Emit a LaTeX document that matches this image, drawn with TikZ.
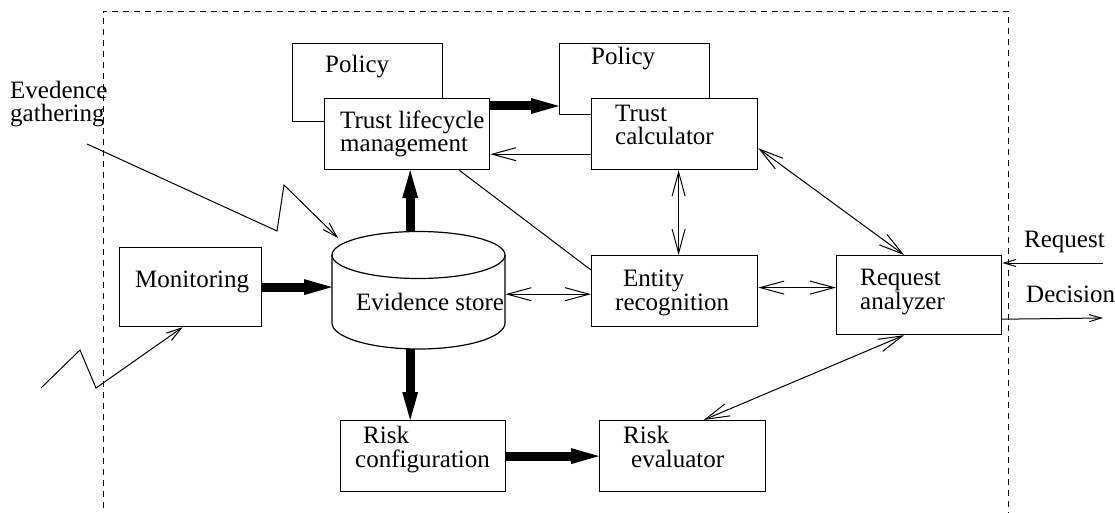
\documentclass[tikz,border=0pt]{standalone}
\usepackage{fontspec}
\setmainfont{Liberation Serif}
\usetikzlibrary{arrows.meta}
\tikzset{
  box/.style={draw, fill=white, line width=1.2pt, inner sep=0pt, anchor=north west},
  txt/.style={anchor=base west, inner sep=0pt, align=left},
  fat/.style={line width=9pt, -{Triangle[length=28pt,width=16pt,line width=0pt]}},
  link/.style={line width=1pt},
  barb/.style={link, -{Straight Barb[length=24pt,width=13pt]}},
  dbarb/.style={link, {Straight Barb[length=24pt,width=13pt]}-{Straight Barb[length=24pt,width=13pt]}},
  sbarb/.style={link, -{Straight Barb[length=15pt,width=9pt]}},
}
\begin{document}
\begin{tikzpicture}[font=\fontsize{25pt}{23.5pt}\selectfont]
\useasboundingbox (0pt,0pt) rectangle (1115pt,-513pt);
% frame
\draw[line width=0.8pt, dash pattern=on 6pt off 5pt] (103pt,-530pt) -- (103pt,-11pt) -- (1008pt,-11pt) -- (1008pt,-530pt);
% boxes
\node[box, minimum width=150pt, minimum height=78pt] (pol1) at (292pt,-43pt) {};
\node[box, minimum width=165pt, minimum height=71pt] (tlm) at (324pt,-98pt) {};
\node[box, minimum width=150pt, minimum height=71pt] (pol2) at (559pt,-43pt) {};
\node[box, minimum width=166pt, minimum height=71pt] (tc) at (591pt,-98pt) {};
\node[box, minimum width=142pt, minimum height=79pt] (monit) at (119pt,-247pt) {};
\node[box, minimum width=166pt, minimum height=71pt] (ent) at (591pt,-255pt) {};
\node[box, minimum width=165pt, minimum height=79pt] (ra) at (836pt,-255pt) {};
\node[box, minimum width=165pt, minimum height=71pt] (riskc) at (340pt,-420pt) {};
\node[box, minimum width=166pt, minimum height=71pt] (riske) at (599pt,-420pt) {};
% evidence store
\node[inner sep=0pt, minimum width=173pt, minimum height=118pt, anchor=north west] (store) at (332pt,-231pt) {};
\draw[line width=1.2pt, fill=white] (store.west |- 0,-255pt) -- (332pt,-323pt)
  arc[start angle=180, end angle=360, x radius=86.5pt, y radius=26pt] -- (505pt,-255pt);
\draw[line width=1.2pt] (418.5pt,-255pt) ellipse[x radius=86.5pt, y radius=23.5pt];
% texts (base = last line)
\node[txt] (pol1-t) at (325pt,-73pt) {Policy};
\node[txt] (pol2-t) at (591pt,-65pt) {Policy};
\node[txt] (tlm-t) at (340pt,-152pt) {Trust lifecycle\\management};
\node[txt] (tc-t) at (615pt,-145pt) {Trust\\calculator};
\node[txt] (monit-t) at (135pt,-287pt) {Monitoring};
\node[txt] (store-t) at (356pt,-310pt) {Evidence store};
\node[txt] (ent-t) at (615pt,-310pt) {\hspace*{8pt}Entity\\recognition};
\node[txt] (ra-t) at (860pt,-309pt) {Request\\analyzer};
\node[txt] (riskc-t) at (355pt,-467pt) {\hspace*{8pt}Risk\\configuration};
\node[txt] (riske-t) at (623pt,-467pt) {Risk\\\hspace*{8pt}evaluator};
\node[txt] (req-t) at (1024pt,-247pt) {Request};
\node[txt] (dec-t) at (1026pt,-302pt) {Decision};
\node[txt] (gath-t) at (10pt,-122pt) {Evedence\\gathering};
% free ends
\coordinate (reqin) at (1103pt,-263pt);
\coordinate (decout) at (1103pt,-318pt);
\coordinate (g1) at (87pt,-144pt);
\coordinate (g2) at (277pt,-231pt);
\coordinate (g3) at (284pt,-185pt);
\coordinate (g4) at (338pt,-238pt);
\coordinate (m1) at (41pt,-388pt);
\coordinate (m2) at (80pt,-350pt);
\coordinate (m3) at (96pt,-388pt);
% thick arrows
\draw[fat] (monit.east) -- (monit.east -| store.west);
\draw[fat] ([xshift=-8.5pt]store.north) -- ([xshift=-8.5pt]store.north |- tlm.south);
\draw[fat] ([xshift=-8.5pt]store.south) -- ([xshift=-8.5pt]store.south |- riskc.north);
\draw[fat] (riskc.east) -- (riskc.east -| riske.west);
\draw[fat] ([yshift=-8pt]tlm.north east) -- ([yshift=-8pt]tlm.north east -| pol2.west);
% thin links
\draw[barb] ([yshift=16pt]tc.south west) -- ([yshift=16pt]tc.south west -| tlm.east);
\draw[link] ([xshift=-31pt]tlm.south east) -- ([yshift=-15pt]ent.north west);
\draw[dbarb] ([yshift=-4pt]store.east) -- ([yshift=-4pt]store.east -| ent.west);
\draw[dbarb] ([xshift=4pt]tc.south) -- ([xshift=4pt]ent.north);
\draw[dbarb] ([yshift=3.5pt]ent.east) -- ([yshift=3.5pt]ent.east -| ra.west);
\draw[dbarb] ([yshift=22pt]tc.south east) -- ([xshift=-15pt]ra.north);
\draw[dbarb] ([xshift=-15pt]ra.south) -- ([xshift=21pt]riske.north);
\draw[link, -{Straight Barb[length=12pt,width=7pt]}] (reqin) -- (reqin -| ra.east);
\draw[link, -{Straight Barb[length=12pt,width=7pt]}] ([yshift=16pt]ra.south east) -- (decout);
\draw[sbarb] (g1) -- (g2) -- (g3) -- (g4);
\draw[sbarb] (m1) -- (m2) -- (m3) -- ([xshift=-8pt]monit.south);
\end{tikzpicture}
\end{document}
